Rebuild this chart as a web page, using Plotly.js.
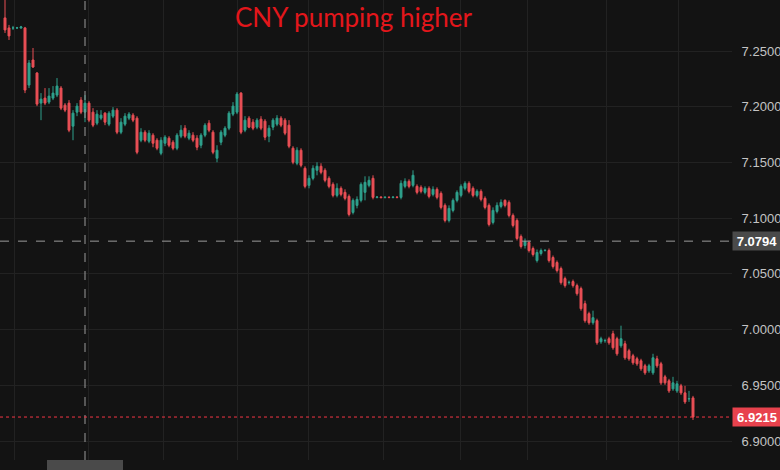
<!DOCTYPE html>
<html>
<head>
<meta charset="utf-8">
<script src="https://cdn.plot.ly/plotly-3.0.1.min.js"></script>
<style>html,body{margin:0;padding:0;background:#131313;}#chart{width:780px;height:470px;}</style>
</head>
<body>
<div id="chart"></div>
<script>
const titleText = "CNY pumping higher";
const yTicks = [6.90, 6.95, 7.00, 7.05, 7.10, 7.15, 7.20, 7.25];
const crossPrice = 7.0794;
const lastPrice = 6.9215;
const crossBar = 20;

const open = [7.2798,7.2708,7.2708,7.2708,7.2708,7.2708,7.2195,7.2420,7.2303,7.2033,
7.2078,7.2042,7.2078,7.2105,7.2168,7.2015,7.2033,7.1826,7.1952,7.2060,
7.1952,7.2033,7.1952,7.1853,7.1898,7.1943,7.1844,7.1916,7.1970,7.1772,
7.1844,7.1898,7.1925,7.1898,7.1700,7.1772,7.1691,7.1745,7.1700,7.1583,
7.1673,7.1718,7.1682,7.1628,7.1736,7.1808,7.1718,7.1745,7.1718,7.1655,
7.1745,7.1853,7.1772,7.1538,7.1682,7.1745,7.1808,7.1934,7.1952,7.2123,
7.1790,7.1898,7.1862,7.1817,7.1889,7.1871,7.1736,7.1817,7.1844,7.1898,
7.1880,7.1835,7.1628,7.1493,7.1610,7.1448,7.1295,7.1358,7.1430,7.1466,
7.1430,7.1358,7.1304,7.1205,7.1268,7.1232,7.1196,7.1052,7.1115,7.1160,
7.1232,7.1295,7.1358,
7.1187,7.1190,7.1185,7.1188,7.1186,7.1189,
7.1187,7.1286,7.1331,7.1295,7.1286,7.1277,7.1232,7.1268,7.1214,7.1259,
7.1223,7.1115,7.0980,7.1070,7.1160,7.1205,7.1268,7.1313,7.1268,7.1205,
7.1241,7.1178,7.1115,7.0962,7.1061,7.1106,7.1160,7.1142,7.1025,7.0980,
7.0836,7.0755,7.0782,7.0728,7.0620,7.0683,7.0710,7.0710,7.0647,7.0602,
7.0548,7.0458,7.0422,7.0431,7.0395,7.0368,7.0233,7.0143,7.0062,7.0080,
6.9891,6.9900,6.9918,6.9963,6.9918,6.9855,6.9873,6.9810,6.9765,6.9738,
6.9720,6.9675,6.9630,6.9612,6.9738,6.9693,6.9576,6.9540,6.9468,6.9450,
6.9495,6.9432,6.9378,6.9387];

const high = [7.3005,7.2735,7.2726,7.2717,7.2726,7.2717,7.2420,7.2528,7.2312,7.2123,
7.2168,7.2168,7.2186,7.2258,7.2186,7.2033,7.2060,7.1970,7.2033,7.2087,
7.2105,7.2051,7.1988,7.1970,7.1970,7.1952,7.1961,7.1997,7.1988,7.1898,
7.1943,7.1952,7.1943,7.1916,7.1808,7.1790,7.1790,7.1763,7.1718,7.1727,
7.1745,7.1736,7.1700,7.1763,7.1835,7.1835,7.1790,7.1772,7.1745,7.1763,
7.1853,7.1880,7.1790,7.1655,7.1790,7.1826,7.1961,7.2042,7.2132,7.2132,
7.1916,7.1916,7.1889,7.1898,7.1916,7.1889,7.1835,7.1898,7.1925,7.1916,
7.1898,7.1880,7.1646,7.1637,7.1628,7.1466,7.1385,7.1475,7.1502,7.1493,
7.1448,7.1376,7.1322,7.1313,7.1286,7.1259,7.1214,7.1178,7.1196,7.1322,
7.1376,7.1376,7.1385,
7.1196,7.1196,7.1196,7.1196,7.1196,7.1196,
7.1340,7.1358,7.1349,7.1430,7.1304,7.1295,7.1286,7.1286,7.1286,7.1277,
7.1241,7.1133,7.1115,7.1178,7.1250,7.1304,7.1331,7.1331,7.1286,7.1259,
7.1259,7.1196,7.1133,7.1097,7.1142,7.1169,7.1169,7.1160,7.1043,7.0998,
7.0854,7.0818,7.0800,7.0746,7.0719,7.0728,7.0719,7.0728,7.0665,7.0620,
7.0566,7.0476,7.0440,7.0449,7.0413,7.0386,7.0260,7.0161,7.0170,7.0098,
6.9936,6.9918,6.9936,6.9990,6.9936,7.0035,6.9900,6.9828,6.9783,6.9756,
6.9738,6.9693,6.9693,6.9783,6.9765,6.9711,6.9594,6.9558,6.9576,6.9540,
6.9513,6.9495,6.9450,6.9405];

const low = [7.2663,7.2600,7.2690,7.2699,7.2699,7.2123,7.2168,7.2348,7.2006,7.1880,
7.2015,7.2024,7.2060,7.2087,7.1970,7.1952,7.1772,7.1700,7.1916,7.1934,
7.1862,7.1862,7.1817,7.1835,7.1880,7.1835,7.1826,7.1898,7.1754,7.1754,
7.1826,7.1880,7.1862,7.1574,7.1682,7.1682,7.1673,7.1637,7.1610,7.1565,
7.1646,7.1637,7.1610,7.1610,7.1718,7.1718,7.1700,7.1682,7.1610,7.1628,
7.1727,7.1772,7.1574,7.1502,7.1655,7.1727,7.1790,7.1916,7.1934,7.1754,
7.1772,7.1808,7.1790,7.1799,7.1790,7.1700,7.1682,7.1790,7.1826,7.1817,
7.1745,7.1628,7.1484,7.1475,7.1457,7.1268,7.1268,7.1340,7.1385,7.1394,
7.1322,7.1268,7.1187,7.1187,7.1196,7.1160,7.1016,7.1034,7.1088,7.1142,
7.1160,7.1277,7.1169,
7.1178,7.1178,7.1178,7.1178,7.1178,7.1178,
7.1169,7.1268,7.1268,7.1277,7.1214,7.1223,7.1214,7.1178,7.1196,7.1169,
7.1079,7.0962,7.0962,7.1052,7.1142,7.1187,7.1250,7.1223,7.1187,7.1187,
7.1151,7.1079,7.0926,7.0944,7.1043,7.1088,7.1097,7.1007,7.0917,7.0800,
7.0728,7.0728,7.0692,7.0656,7.0602,7.0665,7.0701,7.0602,7.0548,7.0512,
7.0404,7.0377,7.0404,7.0377,7.0305,7.0170,7.0062,7.0044,7.0044,6.9864,
6.9873,6.9882,6.9864,6.9819,6.9765,6.9837,6.9729,6.9720,6.9684,6.9675,
6.9630,6.9594,6.9612,6.9594,6.9657,6.9504,6.9504,6.9432,6.9450,6.9432,
6.9414,6.9333,6.9351,6.9189];

const close = [7.2690,7.2636,7.2708,7.2709,7.2717,7.2150,7.2393,7.2357,7.2024,7.2069,
7.2033,7.2096,7.2123,7.2186,7.1988,7.1970,7.1790,7.1943,7.2006,7.1952,
7.2033,7.1880,7.1835,7.1934,7.1925,7.1862,7.1943,7.1970,7.1772,7.1862,
7.1916,7.1934,7.1880,7.1592,7.1772,7.1700,7.1763,7.1673,7.1628,7.1700,
7.1727,7.1655,7.1628,7.1745,7.1790,7.1736,7.1763,7.1700,7.1637,7.1745,
7.1835,7.1790,7.1592,7.1610,7.1772,7.1808,7.1943,7.2006,7.2114,7.1772,
7.1880,7.1817,7.1808,7.1880,7.1808,7.1727,7.1808,7.1880,7.1898,7.1835,
7.1763,7.1646,7.1502,7.1610,7.1475,7.1286,7.1358,7.1448,7.1466,7.1412,
7.1340,7.1286,7.1205,7.1268,7.1214,7.1178,7.1034,7.1160,7.1169,7.1304,
7.1322,7.1340,7.1187,
7.1190,7.1185,7.1188,7.1186,7.1189,7.1187,
7.1313,7.1331,7.1286,7.1385,7.1232,7.1241,7.1268,7.1196,7.1259,7.1187,
7.1097,7.0980,7.1088,7.1160,7.1232,7.1286,7.1313,7.1241,7.1205,7.1241,
7.1169,7.1097,7.0944,7.1070,7.1115,7.1142,7.1115,7.1025,7.0935,7.0818,
7.0746,7.0791,7.0710,7.0674,7.0692,7.0710,7.0712,7.0620,7.0566,7.0530,
7.0422,7.0395,7.0424,7.0395,7.0323,7.0188,7.0080,7.0062,7.0107,6.9882,
6.9918,6.9902,6.9882,6.9837,6.9783,6.9918,6.9747,6.9738,6.9702,6.9693,
6.9648,6.9612,6.9675,6.9747,6.9675,6.9522,6.9522,6.9450,6.9522,6.9513,
6.9432,6.9351,6.9380,6.9215];

// vertical grid positions (session boundaries, in bar units)
const sessionLines = [2.25, 20.75, 39.5, 58, 75.75, 94.5, 113.75, 130.5, 150.25, 168.25];

const bars = open.map((_, i) => i);
const UP = "#2fa08c", DOWN = "#e94f55";

const trace = {
  type: "candlestick",
  x: bars, open: open, high: high, low: low, close: close,
  increasing: {line: {color: UP, width: 1}, fillcolor: UP},
  decreasing: {line: {color: DOWN, width: 1}, fillcolor: DOWN},
  whiskerwidth: 0,
  hoverinfo: "skip",
  showlegend: false
};

const BG = "#131313", GRID = "#222222";
const layout = {
  width: 780, height: 470,
  margin: {l: 0, r: 48, t: 0, b: 10},
  paper_bgcolor: BG, plot_bgcolor: BG,
  showlegend: false,
  hovermode: false,
  dragmode: false,
  xaxis: {
    range: [-1.25, 181.75],
    rangeslider: {visible: false},
    tickmode: "array", tickvals: sessionLines, ticktext: sessionLines.map(() => ""),
    showgrid: true, gridcolor: GRID, gridwidth: 1,
    zeroline: false, showline: false, ticks: "", showticklabels: false,
    fixedrange: true
  },
  yaxis: {
    side: "right",
    range: [6.88294, 7.29587],
    tickmode: "array", tickvals: yTicks,
    tickformat: ".4f",
    showgrid: true, gridcolor: GRID, gridwidth: 1,
    zeroline: false, showline: false,
    ticks: "outside", ticklen: 6, tickcolor: "rgba(0,0,0,0)",
    tickfont: {family: "Liberation Sans, Arial, sans-serif", size: 13, color: "#c4c4c4"},
    fixedrange: true
  },
  shapes: [
    {type: "line", xref: "x", yref: "paper", x0: crossBar, x1: crossBar, y0: 0, y1: 1,
     line: {color: "#9a9a9a", width: 1, dash: "dash"}, layer: "above"},
    {type: "line", xref: "paper", yref: "y", x0: 0, x1: 1, y0: crossPrice, y1: crossPrice,
     line: {color: "#9a9a9a", width: 1, dash: "dash"}, layer: "above"},
    {type: "line", xref: "paper", yref: "y", x0: 0, x1: 1, y0: lastPrice, y1: lastPrice,
     line: {color: "#f23645", width: 1, dash: "dot"}, layer: "above"},
    {type: "rect", xref: "paper", yref: "paper", x0: 47/732, x1: 123/732, y0: -10/460, y1: 0,
     fillcolor: "#4a4a4a", line: {width: 0}, layer: "above"}
  ],
  annotations: [
    {text: titleText, xref: "paper", yref: "paper", x: 354/732, y: 1 - 17/460,
     xanchor: "center", yanchor: "middle", showarrow: false,
     font: {family: "Lato, Open Sans, sans-serif", size: 26, color: "#e3161b"}},
    {text: "<b>" + crossPrice.toFixed(4) + "</b>", xref: "paper", yref: "y", x: 1, y: crossPrice,
     xanchor: "left", yanchor: "middle", showarrow: false, align: "center",
     width: 44, height: 14, borderpad: 2, bgcolor: "#4a4a4a",
     font: {family: "Liberation Sans, Arial, sans-serif", size: 13, color: "#ffffff"}},
    {text: "<b>" + lastPrice.toFixed(4) + "</b>", xref: "paper", yref: "y", x: 1, y: lastPrice,
     xanchor: "left", yanchor: "middle", showarrow: false, align: "center",
     width: 44, height: 14, borderpad: 2, bgcolor: "#e8424d",
     font: {family: "Liberation Sans, Arial, sans-serif", size: 13, color: "#ffffff"}}
  ]
};

Plotly.newPlot("chart", [trace], layout, {displayModeBar: false, staticPlot: true});
</script>
</body>
</html>
